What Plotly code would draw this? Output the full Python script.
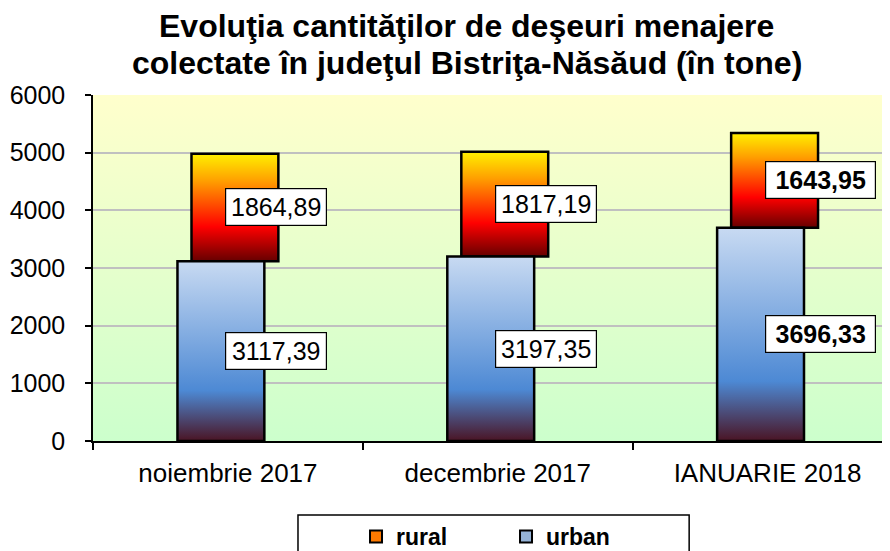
import base64
import plotly.graph_objects as go

# ---------------- data ----------------
categories = ["noiembrie 2017", "decembrie 2017", "IANUARIE 2018"]
urban = [3117.39, 3197.35, 3696.33]
rural = [1864.89, 1817.19, 1643.95]
urban_labels = ["3117,39", "3197,35", "3696,33"]
rural_labels = ["1864,89", "1817,19", "1643,95"]
bold_labels = [False, False, True]
y_ticks = [0, 1000, 2000, 3000, 4000, 5000, 6000]
title_lines = ["Evoluţia cantităţilor de deşeuri menajere",
               "colectate în judeţul Bistriţa-Năsăud (în tone)"]

# ---------------- styles ----------------
FONT = "Arial, Liberation Sans, sans-serif"
BAR_W = 0.322      # bar width in category units
DEPTH = 0.026      # pseudo-3D shift between series
URBAN_SCALE = [[0, "#4a1424"], [0.28, "#4d89d4"], [1, "#c8daf2"]]
RURAL_SCALE = [[0, "#660000"], [0.32, "#ff0000"], [0.75, "#ffa000"], [1, "#fff000"]]

fig = go.Figure()

def bar_poly(xc, base, top, scale, name):
    l, r = xc - BAR_W / 2, xc + BAR_W / 2
    fig.add_trace(go.Scatter(
        x=[l, l, r, r, l], y=[base, top, top, base, base],
        mode="lines", fill="toself",
        fillgradient=dict(type="vertical", colorscale=scale, start=base, stop=top),
        line=dict(color="black", width=2.5),
        showlegend=False, hoverinfo="skip", name=name))

# rural (behind, shifted right), then urban (front, shifted left)
for i in range(len(categories)):
    bar_poly(i + DEPTH, urban[i], urban[i] + rural[i], RURAL_SCALE, "rural")
for i in range(len(categories)):
    bar_poly(i - DEPTH, 0, urban[i], URBAN_SCALE, "urban")

# legend dummies
fig.add_trace(go.Scatter(x=[None], y=[None], mode="markers", name="rural",
                         marker=dict(symbol="square", size=12, color="#ff7a00",
                                     line=dict(color="black", width=2))))
fig.add_trace(go.Scatter(x=[None], y=[None], mode="markers", name="urban",
                         marker=dict(symbol="square", size=12, color="#95b3d7",
                                     line=dict(color="black", width=2))))

# data labels
ann = []
for i in range(len(categories)):
    for val, txt in ((urban[i] / 2, urban_labels[i]),
                     (urban[i] + rural[i] / 2, rural_labels[i])):
        b = bold_labels[i]
        ann.append(dict(x=i, y=val, xref="x", yref="y", xanchor="left", yanchor="middle",
                        xshift=-3, showarrow=False,
                        text=f"<b>{txt}</b>" if b else txt,
                        font=dict(family=FONT, size=25, color="black"),
                        bgcolor="white", bordercolor="black", borderwidth=1.2,
                        borderpad=5, width=99 if b else 90, height=26))

# title
for k, (line, yp) in enumerate(zip(title_lines, [1.198, 1.093])):
    ann.append(dict(x=0.469, y=yp, xref="paper", yref="paper", xanchor="center",
                    yanchor="middle", showarrow=False, text=f"<b>{line}</b>",
                    font=dict(family=FONT, size=32, color="black")))

fig.update_layout(annotations=ann)

# background gradient for plot area
svg = ("<svg xmlns='http://www.w3.org/2000/svg' width='100' height='100' "
       "preserveAspectRatio='none'><defs><linearGradient id='g' x1='0' y1='0' x2='0' y2='1'>"
       "<stop offset='0' stop-color='#ffffcc'/><stop offset='1' stop-color='#ccffcc'/>"
       "</linearGradient></defs><rect width='100' height='100' fill='url(#g)'/></svg>")
uri = "data:image/svg+xml;base64," + base64.b64encode(svg.encode()).decode()
fig.add_layout_image(dict(source=uri, xref="paper", yref="paper", x=0, y=1,
                          sizex=1, sizey=1, sizing="stretch", xanchor="left",
                          yanchor="top", layer="below"))

# legend frame
fig.add_shape(type="rect", xref="paper", yref="paper",
              x0=0.2572, x1=0.748, y0=-0.2139, y1=-0.40,
              line=dict(color="black", width=1.5), fillcolor="white", layer="above")

n = len(categories)
# page body has an 8px margin: figure is sized to the visible area
fig.update_layout(
    width=882, height=543,
    margin=dict(l=85, r=0, t=87, b=110, autoexpand=False),
    paper_bgcolor="white", plot_bgcolor="rgba(0,0,0,0)",
    font=dict(family=FONT, color="black"),
    showlegend=True,
    legend=dict(orientation="h", x=0.33, y=-0.214, xanchor="left", yanchor="top",
                font=dict(family=FONT, size=23, color="black", weight="bold"),
                bgcolor="rgba(0,0,0,0)", entrywidth=105, traceorder="normal",
                tracegroupgap=0, itemsizing="constant"),
    xaxis=dict(range=[-0.5, n - 0.5 - 0.0463], tickvals=list(range(n)), ticktext=categories,
               ticks="", showgrid=False, zeroline=False, showline=True,
               linecolor="black", linewidth=1.5, tickfont=dict(size=26),
               ticklabelstandoff=8,
               minor=dict(tick0=-0.5, dtick=1, ticks="outside", ticklen=7,
                          tickcolor="black", tickwidth=1.5, showgrid=False)),
    yaxis=dict(range=[0, 6000], tickvals=y_ticks, ticks="outside", ticklen=6,
               tickcolor="black", tickwidth=1.5, showgrid=True, gridcolor="#c0c0c0",
               gridwidth=1.5, zeroline=False, showline=True, linecolor="black",
               linewidth=1.5, tickfont=dict(size=25), ticklabelstandoff=15),
)

fig.write_html("out.html")
